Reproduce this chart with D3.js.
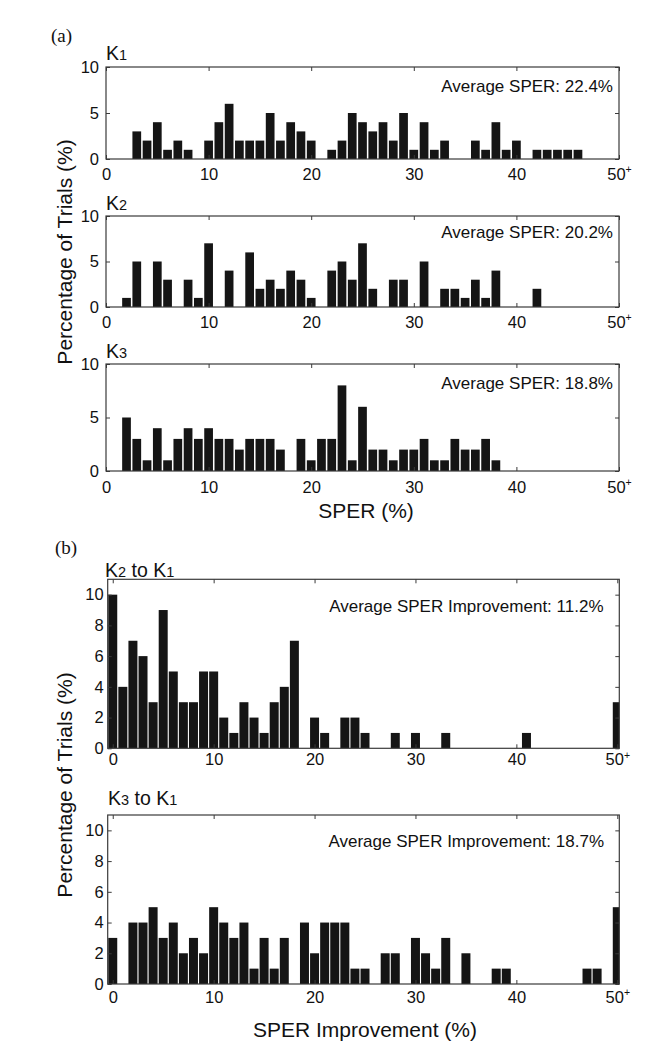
<!DOCTYPE html>
<html>
<head>
<meta charset="utf-8">
<script src="https://cdn.jsdelivr.net/npm/d3@7"></script>
<style>
html,body{margin:0;padding:0;background:#fff;}
svg{display:block;}
</style>
</head>
<body>
<svg id="chart" width="668" height="1050"></svg>
<script>
// ---------- data ----------
const k1Bins = [3,4,5,6,7,8,10,11,12,13,14,15,16,17,18,19,20,22,23,24,25,26,27,28,29,30,31,32,33,36,37,38,39,40,42,43,44,45,46];
const k1Pct  = [3,2,4,1,2,1,2,4,6,2,2,2,5,2,4,3,2,1,2,5,4,3,4,2,5,1,4,1,2,2,1,4,1,2,1,1,1,1,1];

const k2Bins = [2,3,5,6,8,9,10,12,14,15,16,17,18,19,20,22,23,24,25,26,28,29,31,33,34,35,36,37,38,42];
const k2Pct  = [1,5,5,3,3,1,7,4,6,2,3,2,4,3,1,4,5,3,7,2,3,3,5,2,2,1,3,1,4,2];

const k3Bins = [2,3,4,5,6,7,8,9,10,11,12,13,14,15,16,17,19,20,21,22,23,24,25,26,27,28,29,30,31,32,33,34,35,36,37,38];
const k3Pct  = [5,3,1,4,1,3,4,3,4,3,3,2,3,3,3,2,3,1,3,3,8,1,6,2,2,1,2,2,3,1,1,3,2,2,3,1];

const k2k1Bins = [0,1,2,3,4,5,6,7,8,9,10,11,12,13,14,15,16,17,18,20,21,23,24,25,28,30,33,41,50];
const k2k1Pct  = [10,4,7,6,3,9,5,3,3,5,5,2,1,3,2,1,3,4,7,2,1,2,2,1,1,1,1,1,3];

const k3k1Bins = [0,2,3,4,5,6,7,8,9,10,11,12,13,14,15,16,17,19,20,21,22,23,24,25,27,28,30,31,32,33,35,38,39,47,48,50];
const k3k1Pct  = [3,4,4,5,3,4,2,3,2,5,4,3,4,1,3,1,3,4,2,4,4,4,1,1,2,2,3,2,1,3,2,1,1,1,1,5];

const xTicks = [0,10,20,30,40,50];
const yTicksA = [0,5,10];
const yTicksB = [0,2,4,6,8,10];
const titlesA = [["K","1"],["K","2"],["K","3"]];
const titlesB = [["K","2"," to K","1"],["K","3"," to K","1"]];
const avgA = ["Average SPER: 22.4%","Average SPER: 20.2%","Average SPER: 18.8%"];
const avgB = ["Average SPER Improvement: 11.2%","Average SPER Improvement: 18.7%"];
const yLabel = "Percentage of Trials (%)";
const xLabelA = "SPER (%)";
const xLabelB = "SPER Improvement (%)";

// ---------- drawing ----------
const svg = d3.select("#chart");
svg.append("rect").attr("width",668).attr("height",1050).attr("fill","#fff");
const FONT = "'Liberation Sans', Arial, Helvetica, sans-serif";
const FRAME = "#3a3a3a";
const TICKFS = 16.5;

const panels = [
  {bins:k1Bins, pct:k1Pct, l:106, r:619, t:67, b:159, xd:[0,50], ymax:10, yt:yTicksA, bw:0.85, title:titlesA[0], titleY:59.5, titleX:106,
   avg:avgA[0], avgX:613, avgY:92, avgFs:17, ypad:7, xpad:9, clip:false},
  {bins:k2Bins, pct:k2Pct, l:106, r:619, t:216, b:307, xd:[0,50], ymax:10, yt:yTicksA, bw:0.85, title:titlesA[1], titleY:209.5, titleX:106,
   avg:avgA[1], avgX:613, avgY:237.5, avgFs:17, ypad:7, xpad:9, clip:false},
  {bins:k3Bins, pct:k3Pct, l:106, r:619, t:364, b:471, xd:[0,50], ymax:10, yt:yTicksA, bw:0.85, title:titlesA[2], titleY:358, titleX:106,
   avg:avgA[2], avgX:613, avgY:389, avgFs:17, ypad:7, xpad:10, clip:false},
  {bins:k2k1Bins, pct:k2k1Pct, l:107.7, r:619.3, t:579.3, b:748.3, xd:[-0.5,50.2], ymax:11, yt:yTicksB, bw:null, title:titlesB[0], titleY:577, titleX:105,
   avg:avgB[0], avgX:603.5, avgY:612, avgFs:17, ypad:4, xpad:5, clip:true},
  {bins:k3k1Bins, pct:k3k1Pct, l:107.7, r:619.3, t:815, b:984, xd:[-0.5,50.2], ymax:11, yt:yTicksB, bw:null, title:titlesB[1], titleY:804.5, titleX:108,
   avg:avgB[1], avgX:604, avgY:847, avgFs:17, ypad:4, xpad:7, clip:true}
];

panels.forEach((p,i) => {
  const x = d3.scaleLinear().domain(p.xd).range([p.l,p.r]);
  const y = d3.scaleLinear().domain([0,p.ymax]).range([p.b,p.t]);
  const unit = x(1)-x(0);
  const bwPx = p.bw ? p.bw*unit : unit - 1.1;

  const g = svg.append("g");
  const clipId = "clip"+i;
  svg.append("clipPath").attr("id",clipId).append("rect")
    .attr("x",p.l).attr("y",p.t).attr("width",p.r-p.l).attr("height",p.b-p.t);

  const data = p.bins.map((b,k)=>({b:b,v:p.pct[k]}));
  g.append("g").attr("clip-path", p.clip ? `url(#${clipId})` : null)
    .selectAll("rect").data(data).enter().append("rect")
    .attr("x",d=>x(d.b)-bwPx/2)
    .attr("width",bwPx)
    .attr("y",d=>y(d.v))
    .attr("height",d=>y(0)-y(d.v))
    .attr("fill","#151515");

  // axes
  const axB = g.append("g").attr("transform",`translate(0,${p.b})`)
    .call(d3.axisBottom(x).tickValues(xTicks).tickSizeInner(-4).tickSizeOuter(0).tickPadding(p.xpad)
      .tickFormat(d=>String(d)));
  const axT = g.append("g").attr("transform",`translate(0,${p.t})`)
    .call(d3.axisTop(x).tickValues(xTicks).tickSizeInner(-4).tickSizeOuter(0).tickFormat(""));
  const axL = g.append("g").attr("transform",`translate(${p.l},0)`)
    .call(d3.axisLeft(y).tickValues(p.yt).tickSizeInner(-4).tickSizeOuter(0).tickPadding(p.ypad)
      .tickFormat(d=>String(d)));
  const axR = g.append("g").attr("transform",`translate(${p.r},0)`)
    .call(d3.axisRight(y).tickValues(p.yt).tickSizeInner(-4).tickSizeOuter(0).tickFormat(""));
  [axB,axT,axL,axR].forEach(a=>{
    a.select(".domain").remove();
    a.selectAll("line").attr("stroke",FRAME).attr("stroke-width",1);
    a.selectAll("text").attr("font-family",FONT).attr("font-size",TICKFS).attr("fill","#111");
  });
  // superscript + on 50
  axB.selectAll(".tick text").filter(d=>d===50).append("tspan")
    .attr("font-size",10.5).attr("dy","-0.6em").text("+");

  // frame
  g.append("rect").attr("x",p.l).attr("y",p.t).attr("width",p.r-p.l).attr("height",p.b-p.t)
    .attr("fill","none").attr("stroke",FRAME).attr("stroke-width",1.2);

  // title
  const tt = svg.append("text").attr("x",p.titleX).attr("y",p.titleY)
    .attr("font-family",FONT).attr("fill","#111");
  p.title.forEach((s,k)=>{
    const isSub = (k%2===1 && /^[0-9]$/.test(s));
    tt.append("tspan").attr("font-size", isSub ? 14.5 : 19.5).text(s);
  });

  // average text
  svg.append("text").attr("x",p.avgX).attr("y",p.avgY).attr("text-anchor","end")
    .attr("font-family",FONT).attr("font-size",p.avgFs).attr("fill","#111").text(p.avg);
});

// panel letters
svg.append("text").attr("x",51).attr("y",42).attr("font-family","'Liberation Serif', 'Times New Roman', serif")
  .attr("font-size",19).attr("fill","#111").text("(a)");
svg.append("text").attr("x",55).attr("y",554).attr("font-family","'Liberation Serif', 'Times New Roman', serif")
  .attr("font-size",19).attr("fill","#111").text("(b)");

// y labels
svg.append("text").attr("transform","translate(72,252) rotate(-90)").attr("text-anchor","middle")
  .attr("font-family",FONT).attr("font-size",21).attr("fill","#111").text(yLabel);
svg.append("text").attr("transform","translate(72,785) rotate(-90)").attr("text-anchor","middle")
  .attr("font-family",FONT).attr("font-size",21).attr("fill","#111").text(yLabel);

// x labels
svg.append("text").attr("x",366).attr("y",518).attr("text-anchor","middle")
  .attr("font-family",FONT).attr("font-size",21).attr("fill","#111").text(xLabelA);
svg.append("text").attr("x",365).attr("y",1037).attr("text-anchor","middle")
  .attr("font-family",FONT).attr("font-size",21).attr("fill","#111").text(xLabelB);
</script>
</body>
</html>
